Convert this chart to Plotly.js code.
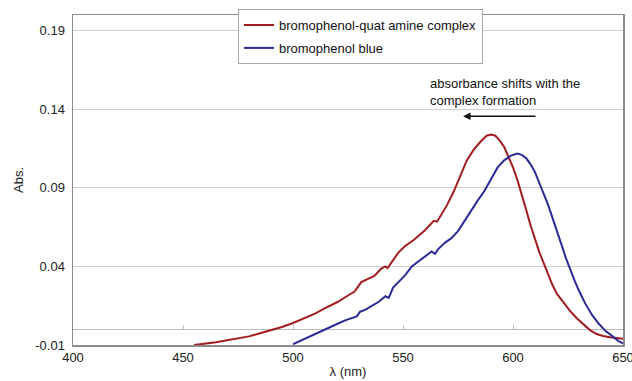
<!DOCTYPE html>
<html>
<head>
<meta charset="utf-8">
<script src="https://cdn.plot.ly/plotly-3.0.1.min.js"></script>
<style>html,body{margin:0;padding:0;background:#fff;}#chart{width:632px;height:381px;}</style>
</head>
<body>
<div id="chart"></div>
<script>
// bromophenol-quat amine complex
var complexWl = [455,460,465,470,475,480,485,490,495,500,505,510,515,520,525,528,531,534,537,540,542,543,545,548,551,555,560,564,565.5,567,570,573,576,579,582,585,588,590,592,594,596,598,600,602,604,606,608,610,612,614,616,618,620,623,626,629,632,635,638,641,644,647,650];
var complexAbs = [-0.0100,-0.0092,-0.0083,-0.0070,-0.0058,-0.0045,-0.0025,-0.0005,0.0015,0.0040,0.0068,0.0100,0.0138,0.0172,0.0215,0.0240,0.0300,0.0318,0.0340,0.0385,0.0400,0.0390,0.0430,0.0490,0.0530,0.0570,0.0630,0.0690,0.0685,0.0720,0.0790,0.0875,0.0970,0.1075,0.1140,0.1190,0.1232,0.1240,0.1232,0.1200,0.1160,0.1100,0.1030,0.0950,0.0860,0.0760,0.0660,0.0570,0.0490,0.0420,0.0345,0.0280,0.0225,0.0170,0.0115,0.0070,0.0030,-0.0005,-0.0030,-0.0043,-0.0050,-0.0055,-0.0060];
// bromophenol blue
var blueWl = [500,503,506,509,512,515,518,521,524,527,529,530.5,533,536,539,542,543.5,545.5,548,551,554,557,560,563,564.5,566,569,572,575,578,581,584,587,590,593,596,599,602,604,606,608,610,612,614,616,618,620,622,624,626,628,630,633,636,639,642,645,648,650];
var blueAbs = [-0.0095,-0.0075,-0.0055,-0.0035,-0.0016,0.0002,0.0020,0.0040,0.0058,0.0072,0.0082,0.0112,0.0125,0.0150,0.0175,0.0210,0.0200,0.0265,0.0300,0.0345,0.0400,0.0430,0.0465,0.0495,0.0480,0.0510,0.0550,0.0580,0.0625,0.0690,0.0760,0.0820,0.0880,0.0960,0.1030,0.1075,0.1105,0.1118,0.1110,0.1088,0.1050,0.1000,0.0935,0.0860,0.0790,0.0710,0.0625,0.0540,0.0455,0.0380,0.0310,0.0245,0.0160,0.0090,0.0035,-0.0010,-0.0045,-0.0075,-0.0090];

var seriesNames = ['bromophenol-quat amine complex', 'bromophenol blue'];
var yTickVals = [-0.01, 0.04, 0.09, 0.14, 0.19];
var yTickText = ['-0.01', '0.04', '0.09', '0.14', '0.19'];
var xTickVals = [400, 450, 500, 550, 600, 650];
var xTickText = ['400', '450', '500', '550', '600', '650'];

var FONT = 'Liberation Sans, Arial, sans-serif';
var FS = 13;

var traces = [
  {x: complexWl, y: complexAbs, type: 'scatter', mode: 'lines', name: seriesNames[0],
   legendgroup: 'a', line: {color: '#a11d1f', width: 2}},
  {x: blueWl, y: blueAbs, type: 'scatter', mode: 'lines', name: seriesNames[1],
   legendgroup: 'b', line: {color: '#2b2b96', width: 2}},
  // empty helper trace so the tick-mark axis at Abs = 0 is drawn
  {x: [], y: [], type: 'scatter', mode: 'lines', xaxis: 'x2', yaxis: 'y',
   showlegend: false, hoverinfo: 'skip'}
];

var layout = {
  width: 632, height: 381,
  margin: {l: 73, r: 9, t: 15, b: 36},
  paper_bgcolor: '#fff', plot_bgcolor: '#fff',
  font: {family: FONT, size: FS, color: '#222'},
  showlegend: true,
  legend: {x: 0.3, y: 1.018, xanchor: 'left', yanchor: 'top',
    bgcolor: '#fff', bordercolor: '#aaa', borderwidth: 1,
    font: {family: FONT, size: FS, color: '#111'}, tracegroupgap: 3},
  xaxis: {range: [400, 650], tickvals: xTickVals, ticktext: xTickText,
    showgrid: false, zeroline: false, showline: true, mirror: true,
    linecolor: '#8c8c8c', linewidth: 1.5, ticks: '', ticklabeloverflow: 'allow',
    tickfont: {family: FONT, size: FS, color: '#222'},
    title: {text: 'λ (nm)', font: {family: FONT, size: FS, color: '#222'}, standoff: 3}},
  xaxis2: {range: [400, 650], overlaying: 'x', anchor: 'free', position: 0.01 / 0.21,
    side: 'bottom', tickvals: xTickVals, showticklabels: false, ticks: 'inside',
    ticklen: 4, tickcolor: '#bdbdbd', showline: false, showgrid: false, zeroline: false},
  yaxis: {range: [-0.01, 0.2], tickvals: yTickVals, ticktext: yTickText,
    showgrid: true, gridcolor: '#cfcfcf', gridwidth: 1,
    zeroline: true, zerolinecolor: '#bdbdbd', zerolinewidth: 1,
    showline: true, mirror: true, linecolor: '#8c8c8c', linewidth: 1.5, ticks: 'outside',
    ticklen: 4, tickcolor: '#fff',
    tickfont: {family: FONT, size: FS, color: '#222'},
    title: {text: 'Abs.', font: {family: FONT, size: FS, color: '#222'}, standoff: 8}},
  annotations: [
    {x: 561.5, y: 0.1507, xref: 'x', yref: 'y', xanchor: 'left', yanchor: 'middle',
     align: 'left', showarrow: false,
     text: 'absorbance shifts with the<br>complex formation',
     font: {family: FONT, size: FS, color: '#111'}},
    {x: 577.3, y: 0.1355, ax: 610.9, ay: 0.1355, xref: 'x', yref: 'y',
     axref: 'x', ayref: 'y', text: '', showarrow: true,
     arrowhead: 2, arrowsize: 1, arrowwidth: 1.5, arrowcolor: '#111'}
  ]
};

Plotly.newPlot('chart', traces, layout, {displayModeBar: false, staticPlot: true});
</script>
</body>
</html>
